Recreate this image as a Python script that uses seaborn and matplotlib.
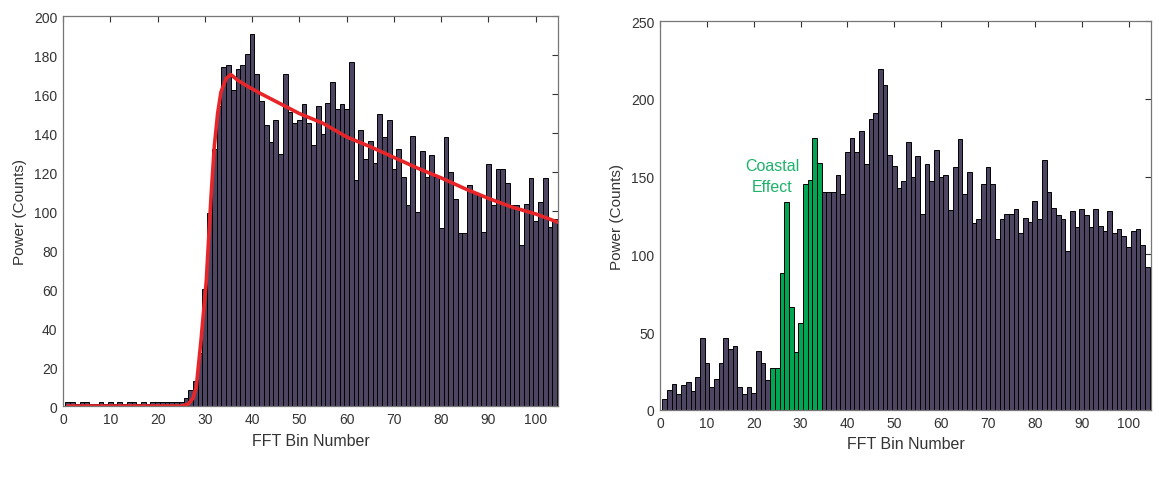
import numpy as np
import pandas as pd
import seaborn as sns
import matplotlib.pyplot as plt

# left panel: FFT bin histogram with fitted curve
left_bins = list(range(1, 105))
left_power = [2, 2, 1, 2, 2, 1, 1, 2, 1, 2, 1, 2, 1, 2, 2, 1, 2, 1, 2, 2,
              2, 2, 2, 2, 2, 4, 8, 13, 27, 60, 99, 132, 154, 174, 175, 162,
              173, 175, 180.5, 191, 170.5, 156.5, 144, 135.5, 146.5, 129.5,
              170.5, 151, 145, 146.5, 154.8, 145, 134, 153.8, 139.4, 155.5,
              166, 152.3, 154.8, 152.3, 176.5, 115.8, 141.5, 126.9, 135.8,
              124.4, 149.7, 138, 146.6, 121.8, 131.7, 117.5, 102.9, 138.6,
              99.4, 130.9, 117.5, 128.6, 117.5, 91.5, 138, 119.8, 106.4,
              88.7, 88.7, 113.2, 109.8, 108, 89.3, 124, 103.3, 121.8, 121.8,
              114.6, 103, 103, 82.4, 103.5, 117, 95, 104.7, 117, 91.7, 96]

fit_bins = [1, 25, 26.5, 27.5, 28.2, 29.2, 30.3, 31.3, 32.0, 32.7, 33.4,
            34.5, 35.5, 37, 39, 42, 46, 50, 55, 60, 65, 70, 75, 80, 85, 90,
            95, 100, 105]
fit_power = [0, 0, 1, 4, 10, 34, 64, 107, 133, 150, 161, 168, 170, 167, 164,
             160, 155, 150, 145, 138, 133, 127.5, 122, 117, 111.5, 106.5, 102,
             98.5, 94]

# right panel: FFT bin histogram with coastal effect bins highlighted
right_bins = list(range(1, 105))
right_power = [7, 13, 17, 10, 16, 18, 12, 21, 46, 30, 15, 20, 30, 46, 39, 41,
               15, 10, 15, 11, 38, 30, 19, 27, 27, 88, 134, 66, 37, 56, 145,
               148, 175, 159, 140, 140, 140, 151, 139, 166, 175, 166, 179,
               158, 187, 191, 219, 209, 164, 157, 142.5, 147, 172, 150, 163,
               126, 158, 147, 167, 150, 151, 128.5, 156, 174, 139, 153, 120,
               123, 145, 156, 145, 110, 123, 126, 126, 129, 113.5, 123.4,
               120.6, 134.5, 122.8, 160.9, 140.4, 129.7, 125.2, 122.8, 102.4,
               127.7, 117.3, 128.9, 125.2, 117.3, 129.2, 118.5, 115.3, 127.7,
               113.5, 116.4, 111.9, 104.5, 115.1, 116.4, 106, 91.7]
coastal_bins = list(range(24, 35))

bar_color = "#4e4563"
green = "#00a651"
red = "#e8262a"

sns.set_style("white")
plt.rcParams["font.family"] = ["Liberation Sans", "DejaVu Sans"]
plt.rcParams["xtick.direction"] = "in"
plt.rcParams["ytick.direction"] = "in"

fig = plt.figure(figsize=(11.59, 4.85), dpi=100)
ax1 = fig.add_axes([0.0544, 0.1608, 0.427, 0.804])
ax2 = fig.add_axes([0.5695, 0.1526, 0.4236, 0.802])

left_df = pd.DataFrame({"bin": left_bins, "power": left_power})
sns.histplot(data=left_df, x="bin", weights="power", discrete=True, shrink=1,
             color=bar_color, edgecolor="black", linewidth=0.7, alpha=1, ax=ax1)
fit_df = pd.DataFrame({"bin": fit_bins, "power": fit_power})
sns.lineplot(data=fit_df, x="bin", y="power", color=red, linewidth=2.6, ax=ax1)
ax1.set_xlim(0, 104.7)
ax1.set_ylim(0, 200)
ax1.set_yticks(np.arange(0, 201, 20))

right_df = pd.DataFrame({"bin": right_bins, "power": right_power})
right_df["coastal"] = right_df["bin"].isin(coastal_bins)
sns.histplot(data=right_df[~right_df["coastal"]], x="bin", weights="power",
             discrete=True, shrink=1, color=bar_color, edgecolor="black",
             linewidth=0.7, alpha=1, ax=ax2)
sns.histplot(data=right_df[right_df["coastal"]], x="bin", weights="power",
             discrete=True, shrink=1, color=green, edgecolor="black",
             linewidth=0.7, alpha=1, ax=ax2)
ax2.text(24.0, 150.5, "Coastal\nEffect", color="#1db36a", fontsize=11.5,
         ha="center", va="center", linespacing=1.55)
ax2.set_xlim(0, 104.8)
ax2.set_ylim(0, 250)
ax2.set_yticks(np.arange(0, 251, 50))

for ax in (ax1, ax2):
    ax.set_xticks(np.arange(0, 101, 10))
    ax.set_xlabel("FFT Bin Number", fontsize=11.5, color="#333333", labelpad=5)
    ax.set_ylabel("Power (Counts)", fontsize=11, color="#333333", labelpad=5)
    ax.tick_params(axis="both", labelsize=10, colors="#333333", length=4,
                   width=0.8, top=True, right=True, pad=4)
    for spine in ax.spines.values():
        spine.set_color("#777777")
        spine.set_linewidth(0.9)
        spine.set_visible(True)

fig.savefig("out.png", dpi=100)
